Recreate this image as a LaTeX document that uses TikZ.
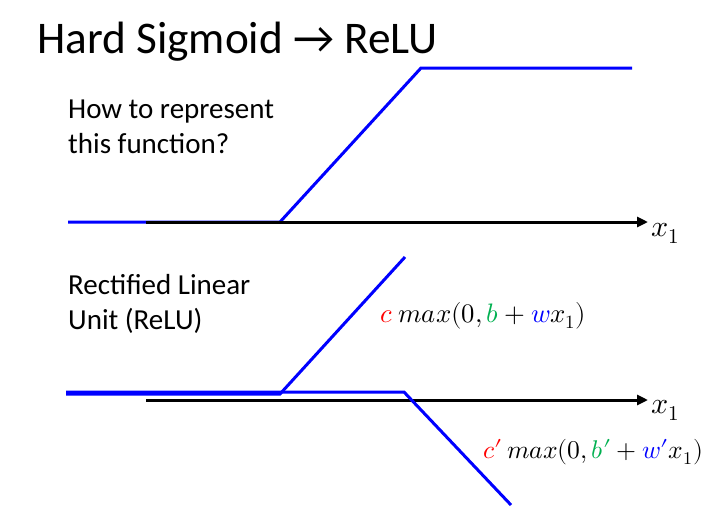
\documentclass[tikz,border=0pt]{standalone}
\usepackage{fontspec}
\usepackage{unicode-math}
\setmainfont{Carlito}
\usetikzlibrary{arrows.meta}
\definecolor{pblue}{RGB}{0,0,255}
\definecolor{pgreen}{RGB}{0,176,80}
\definecolor{pred}{RGB}{255,0,0}
\Umathchardef\myprime="0 "0 "2032
\begin{document}
\begin{tikzpicture}[x=1pt,y=-1pt,
  curve/.style={pblue,line width=3pt,line join=miter},
  axis/.style={black,line width=3pt,-{Triangle[length=11pt,width=10pt]}},
  body/.style={anchor=base west,inner sep=0pt,font=\fontsize{29}{34}\selectfont},
  mathlbl/.style={anchor=base west,inner sep=0pt,font=\fontsize{26.7}{30}\selectfont},
  xlbl/.style={anchor=base west,inner sep=0pt,font=\fontsize{30}{34}\selectfont}]
\useasboundingbox (0,0) rectangle (714,511);
\node[anchor=base west,inner sep=0pt,font=\fontsize{45.3}{50}\selectfont] (title) at (37,53) {Hard Sigmoid → ReLU};
\node[body] (q1) at (68,118) {How to represent};
\node[body] (q2) at (68,153) {this function?};
\node[body] (r1) at (68,294) {Rectified Linear};
\node[body] (r2) at (68,329) {Unit (ReLU)};
% top
\coordinate (h0) at (68,222);
\coordinate (h1) at (280,222);
\coordinate (h2) at (421,68);
\coordinate (h3) at (632,68);
\draw[curve] (h0) -- (h1) -- (h2) -- (h3);
\coordinate (a0) at (146,222);
\coordinate (a1) at (648,222);
\draw[axis] (a0) -- (a1);
\node[xlbl] (x1a) at (651,236) {$x_1$};
% bottom
\coordinate (b0) at (146,400);
\coordinate (b1) at (648,400);
\draw[axis] (b0) -- (b1);
\node[xlbl] (x1b) at (651,413) {$x_1$};
\coordinate (p0) at (66,394);
\coordinate (p1) at (280,394);
\coordinate (p2) at (405,257);
\draw[curve] (p0) -- (p1) -- (p2);
\coordinate (q0) at (66,392);
\coordinate (q1) at (404,392);
\coordinate (q2) at (511,505);
\draw[curve] (q0) -- (q1) -- (q2);
\node[mathlbl] (l1) at (380,322) {$\color{pred}c\ \color{black}max(0,\color{pgreen}b\color{black}+\color{pblue}w\color{black}x_1)$};
\node[mathlbl,font=\fontsize{25.6}{30}\selectfont] (l2) at (483,458) {$\color{pred}c\myprime\,\color{black}max(0,\color{pgreen}b\myprime\color{black}+\color{pblue}w\myprime\color{black}x_1)$};
\end{tikzpicture}
\end{document}
